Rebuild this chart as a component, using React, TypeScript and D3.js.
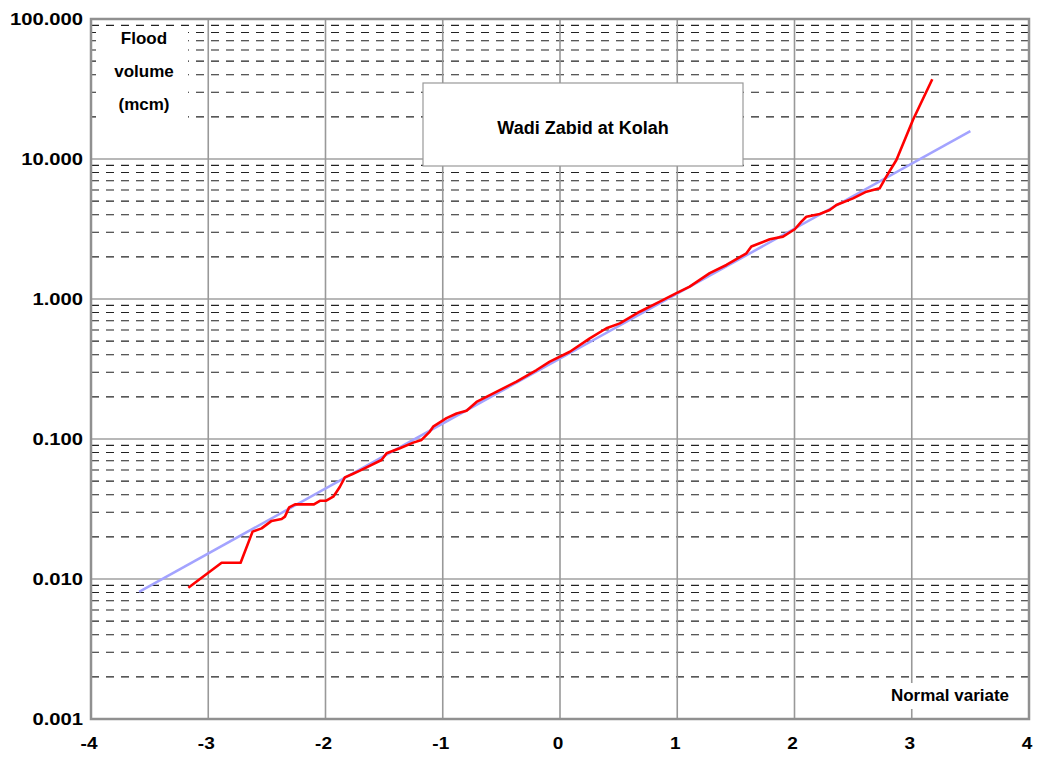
import React from 'react';
import * as d3 from 'd3';

// Normal variate axis and log flood volume axis
const xTicks = [-4, -3, -2, -1, 0, 1, 2, 3, 4];
const yDecades = [0.001, 0.01, 0.1, 1, 10, 100];
const yLabels = ['0.001', '0.010', '0.100', '1.000', '10.000', '100.000'];
const minorMultiples = [2, 3, 4, 5, 6, 7, 8, 9];

// Observed flood volumes (mcm) against normal variate
const obsVariate = [
  -3.17, -2.886, -2.724, -2.622, -2.545, -2.46, -2.374, -2.346, -2.31, -2.26,
  -2.099, -2.048, -1.997, -1.934, -1.905, -1.877, -1.835, -1.769, -1.707, -1.65,
  -1.522, -1.479, -1.366, -1.252, -1.181, -1.11, -1.082, -0.968, -0.882, -0.797,
  -0.712, -0.598, -0.485, -0.371, -0.2, -0.087, 0.084, 0.254, 0.396, 0.51,
  0.68, 0.851, 0.993, 1.106, 1.277, 1.419, 1.59, 1.632, 1.703, 1.789,
  1.902, 2.002, 2.059, 2.101, 2.215, 2.3, 2.357, 2.499, 2.613, 2.726,
  2.783, 2.869, 3.01, 3.175,
];
const obsVolume = [
  0.00867, 0.01306, 0.01306, 0.0218, 0.023, 0.026, 0.0268, 0.0279, 0.0325, 0.0341,
  0.0341, 0.0362, 0.0362, 0.0387, 0.042, 0.0456, 0.0532, 0.0562, 0.0594, 0.0628,
  0.0708, 0.079, 0.0859, 0.0942, 0.0985, 0.113, 0.1225, 0.141, 0.152, 0.159,
  0.184, 0.206, 0.23, 0.257, 0.311, 0.357, 0.42, 0.523, 0.618, 0.67,
  0.811, 0.957, 1.1, 1.225, 1.53, 1.75, 2.12, 2.37, 2.5, 2.67,
  2.79, 3.15, 3.57, 3.87, 4.05, 4.32, 4.69, 5.23, 5.84, 6.17,
  7.48, 9.84, 19.0, 37.1,
];

// Fitted lognormal line (end points)
const fitVariate = [-3.59, 3.5];
const fitVolume = [0.0081, 15.8];

const FONT = '"Liberation Sans", Arial, sans-serif';

export default function App() {
  const width = 1042;
  const height = 758;
  const plot = { left: 91, right: 1029, top: 19, bottom: 719 };

  const x = d3.scaleLinear().domain([-4, 4]).range([plot.left, plot.right]);
  const y = d3.scaleLog().domain([0.001, 100]).range([plot.bottom, plot.top]);

  const minorValues: number[] = [];
  yDecades.slice(0, -1).forEach(d => minorMultiples.forEach(m => minorValues.push(d * m)));

  const line = d3.line<[number, number]>()
    .x(d => x(d[0]))
    .y(d => y(d[1]));

  const obsPath = line(obsVariate.map((v, i) => [v, obsVolume[i]] as [number, number])) || '';
  const fitPath = line(fitVariate.map((v, i) => [v, fitVolume[i]] as [number, number])) || '';

  return (
    <svg width={width} height={height} style={{ position: 'absolute', left: 0, top: 0, background: '#fff' }}
      fontFamily={FONT} fontWeight="bold" fill="#000">
      {/* minor dashed gridlines */}
      {minorValues.map(v => (
        <line key={'m' + v} x1={plot.left} x2={plot.right} y1={y(v)} y2={y(v)}
          stroke="#222" strokeWidth={1.1} strokeDasharray="8,7" />
      ))}
      {/* decade gridlines */}
      {yDecades.map(v => (
        <line key={'d' + v} x1={plot.left} x2={plot.right} y1={y(v)} y2={y(v)}
          stroke="#a0a0a0" strokeWidth={1.6} />
      ))}
      {/* vertical gridlines */}
      {xTicks.map(t => (
        <line key={'v' + t} x1={x(t)} x2={x(t)} y1={plot.top} y2={plot.bottom}
          stroke="#999" strokeWidth={1.6} />
      ))}

      {/* axis title box */}
      <rect x={96} y={28} width={92} height={106} fill="#fff" />
      <text x={144} y={44} textAnchor="middle" fontSize={17}>Flood</text>
      <text x={144} y={77} textAnchor="middle" fontSize={17}>volume</text>
      <text x={144} y={110} textAnchor="middle" fontSize={17}>(mcm)</text>

      {/* chart title box */}
      <rect x={423} y={83} width={320} height={83} fill="#fff" stroke="#999" strokeWidth={1.2} />
      <text x={583} y={134} textAnchor="middle" fontSize={18}>Wadi Zabid at Kolah</text>

      {/* x axis title box */}
      <rect x={884} y={683} width={144} height={26} fill="#fff" />
      <text x={950} y={701} textAnchor="middle" fontSize={17}>Normal variate</text>

      {/* frame */}
      <rect x={plot.left} y={plot.top} width={plot.right - plot.left} height={plot.bottom - plot.top}
        fill="none" stroke="#909090" strokeWidth={2.5} />

      {/* series */}
      <path d={fitPath} fill="none" stroke="#a3a3ff" strokeWidth={2.5} />
      <path d={obsPath} fill="none" stroke="#ff0000" strokeWidth={2.6} strokeLinejoin="round" />

      {/* y tick labels */}
      {yDecades.map((v, i) => (
        <g key={'yl' + v} transform={`translate(83,${y(v)}) scale(1.19,1)`}>
          <text dy="0.36em" textAnchor="end" fontSize={17}>{yLabels[i]}</text>
        </g>
      ))}
      {/* x tick labels */}
      {xTicks.map(t => (
        <g key={'xl' + t} transform={`translate(${x(t) - 2},749) scale(1.12,1)`}>
          <text textAnchor="middle" fontSize={17}>{t}</text>
        </g>
      ))}
    </svg>
  );
}
